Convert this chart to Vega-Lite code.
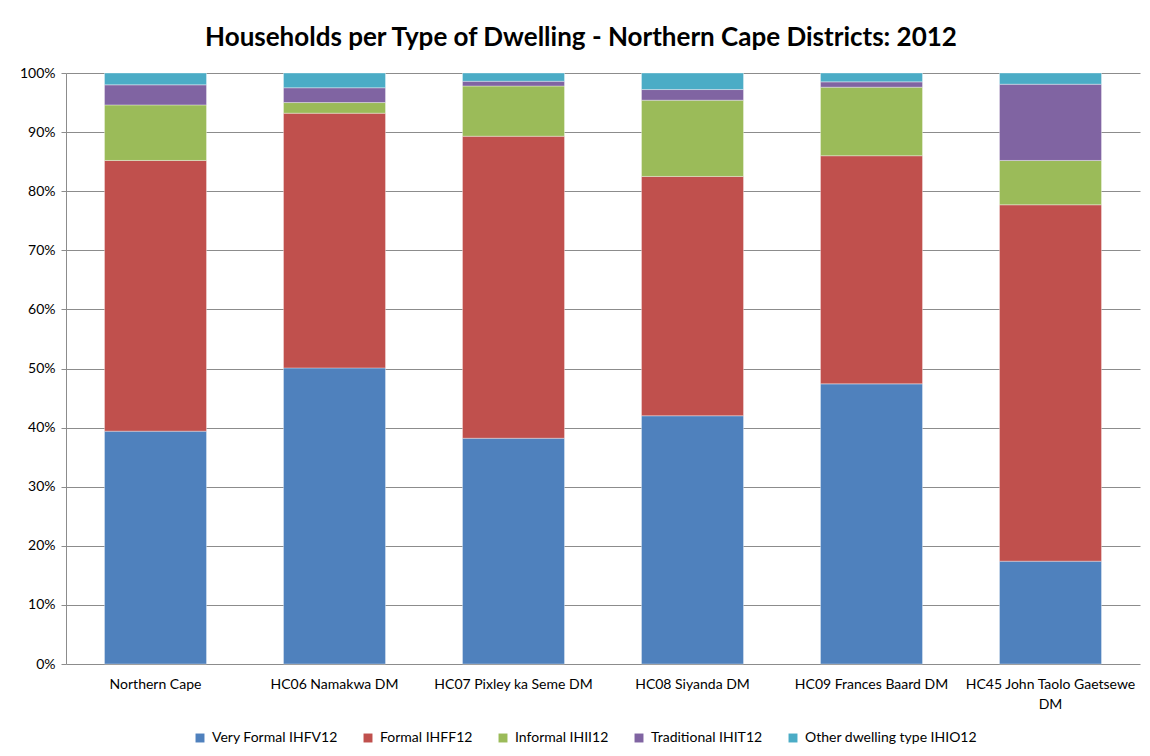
{
  "$schema": "https://vega.github.io/schema/vega-lite/v6.json",
  "width": 1074,
  "height": 591,
  "autosize": {"type": "none"},
  "padding": {"left": 66, "top": 73, "right": 10, "bottom": 92},
  "background": "white",
  "title": {
    "text": "Households per Type of Dwelling - Northern Cape Districts: 2012",
    "font": "Lato",
    "fontSize": 26,
    "fontWeight": "bold",
    "color": "#000000",
    "anchor": "middle",
    "offset": 15,
    "dx": -22
  },
  "data": {
    "values": [
      {"district": "Northern Cape", "type": "Very Formal IHFV12", "ord": 1, "pct": 39.4},
      {"district": "Northern Cape", "type": "Formal IHFF12", "ord": 2, "pct": 45.8},
      {"district": "Northern Cape", "type": "Informal IHII12", "ord": 3, "pct": 9.4},
      {"district": "Northern Cape", "type": "Traditional IHIT12", "ord": 4, "pct": 3.4},
      {"district": "Northern Cape", "type": "Other dwelling type IHIO12", "ord": 5, "pct": 2.0},
      {"district": "HC06 Namakwa DM", "type": "Very Formal IHFV12", "ord": 1, "pct": 50.1},
      {"district": "HC06 Namakwa DM", "type": "Formal IHFF12", "ord": 2, "pct": 43.1},
      {"district": "HC06 Namakwa DM", "type": "Informal IHII12", "ord": 3, "pct": 1.8},
      {"district": "HC06 Namakwa DM", "type": "Traditional IHIT12", "ord": 4, "pct": 2.5},
      {"district": "HC06 Namakwa DM", "type": "Other dwelling type IHIO12", "ord": 5, "pct": 2.5},
      {"district": "HC07 Pixley ka Seme DM", "type": "Very Formal IHFV12", "ord": 1, "pct": 38.2},
      {"district": "HC07 Pixley ka Seme DM", "type": "Formal IHFF12", "ord": 2, "pct": 51.1},
      {"district": "HC07 Pixley ka Seme DM", "type": "Informal IHII12", "ord": 3, "pct": 8.5},
      {"district": "HC07 Pixley ka Seme DM", "type": "Traditional IHIT12", "ord": 4, "pct": 0.8},
      {"district": "HC07 Pixley ka Seme DM", "type": "Other dwelling type IHIO12", "ord": 5, "pct": 1.4},
      {"district": "HC08 Siyanda DM", "type": "Very Formal IHFV12", "ord": 1, "pct": 42.0},
      {"district": "HC08 Siyanda DM", "type": "Formal IHFF12", "ord": 2, "pct": 40.5},
      {"district": "HC08 Siyanda DM", "type": "Informal IHII12", "ord": 3, "pct": 12.9},
      {"district": "HC08 Siyanda DM", "type": "Traditional IHIT12", "ord": 4, "pct": 1.8},
      {"district": "HC08 Siyanda DM", "type": "Other dwelling type IHIO12", "ord": 5, "pct": 2.8},
      {"district": "HC09 Frances Baard DM", "type": "Very Formal IHFV12", "ord": 1, "pct": 47.4},
      {"district": "HC09 Frances Baard DM", "type": "Formal IHFF12", "ord": 2, "pct": 38.6},
      {"district": "HC09 Frances Baard DM", "type": "Informal IHII12", "ord": 3, "pct": 11.6},
      {"district": "HC09 Frances Baard DM", "type": "Traditional IHIT12", "ord": 4, "pct": 0.9},
      {"district": "HC09 Frances Baard DM", "type": "Other dwelling type IHIO12", "ord": 5, "pct": 1.5},
      {"district": "HC45 John Taolo Gaetsewe DM", "type": "Very Formal IHFV12", "ord": 1, "pct": 17.4},
      {"district": "HC45 John Taolo Gaetsewe DM", "type": "Formal IHFF12", "ord": 2, "pct": 60.3},
      {"district": "HC45 John Taolo Gaetsewe DM", "type": "Informal IHII12", "ord": 3, "pct": 7.5},
      {"district": "HC45 John Taolo Gaetsewe DM", "type": "Traditional IHIT12", "ord": 4, "pct": 12.9},
      {"district": "HC45 John Taolo Gaetsewe DM", "type": "Other dwelling type IHIO12", "ord": 5, "pct": 1.9}
    ]
  },
  "mark": {"type": "bar", "stroke": "white", "strokeOpacity": 0.35, "strokeWidth": 1},
  "encoding": {
    "x": {
      "field": "district",
      "type": "nominal",
      "sort": null,
      "title": null,
      "scale": {"paddingInner": 0.43, "paddingOuter": 0.215},
      "axis": {
        "labelAngle": 0,
        "labelFont": "Lato",
        "labelFontSize": 14,
        "labelColor": "#000000",
        "labelPadding": 13,
        "labelLimit": 300,
        "ticks": false,
        "domain": false,
        "labelExpr": "datum.value == 'HC45 John Taolo Gaetsewe DM' ? ['HC45 John Taolo Gaetsewe', 'DM'] : datum.value",
        "labelLineHeight": 20
      }
    },
    "y": {
      "field": "pct",
      "type": "quantitative",
      "stack": "zero",
      "title": null,
      "scale": {"domain": [0, 100], "nice": false},
      "axis": {
        "values": [0, 10, 20, 30, 40, 50, 60, 70, 80, 90, 100],
        "labelExpr": "datum.value + '%'",
        "labelFont": "Lato",
        "labelFontSize": 14,
        "labelColor": "#000000",
        "labelPadding": 6,
        "domainColor": "#8c8c8c",
        "gridColor": "#8c8c8c",
        "gridWidth": 1,
        "tickColor": "#8c8c8c",
        "tickSize": 5
      }
    },
    "color": {
      "field": "type",
      "type": "nominal",
      "sort": ["Very Formal IHFV12", "Formal IHFF12", "Informal IHII12", "Traditional IHIT12", "Other dwelling type IHIO12"],
      "scale": {
        "domain": ["Very Formal IHFV12", "Formal IHFF12", "Informal IHII12", "Traditional IHIT12", "Other dwelling type IHIO12"],
        "range": ["#4F81BD", "#C0504D", "#9BBB59", "#8064A2", "#4BACC6"]
      },
      "legend": {
        "title": null,
        "orient": "none",
        "legendX": 127,
        "legendY": 658,
        "direction": "horizontal",
        "symbolType": "square",
        "symbolSize": 80,
        "symbolStrokeWidth": 0,
        "labelFont": "Lato",
        "labelFontSize": 14,
        "labelColor": "#000000",
        "labelOffset": 5,
        "labelLimit": 300,
        "columnPadding": 23
      }
    },
    "order": {"field": "ord", "type": "quantitative"}
  },
  "config": {
    "view": {"stroke": null}
  }
}
